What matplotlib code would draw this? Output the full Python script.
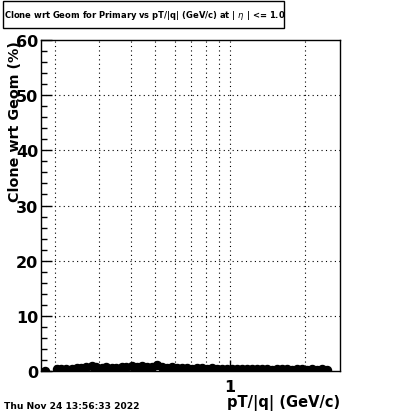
import numpy as np
import matplotlib.pyplot as plt
from matplotlib.patches import Rectangle
from matplotlib.ticker import FixedLocator, NullFormatter, MultipleLocator

# data
pt = [0.181, 0.202, 0.211, 0.221, 0.232, 0.243, 0.254, 0.266, 0.279, 0.292, 0.306,
      0.320, 0.336, 0.351, 0.368, 0.385, 0.404, 0.423, 0.443, 0.464, 0.486,
      0.509, 0.533, 0.558, 0.584, 0.612, 0.641, 0.671, 0.703, 0.736, 0.771,
      0.807, 0.846, 0.886, 0.928, 0.971, 1.017, 1.066, 1.116, 1.169, 1.224,
      1.282, 1.343, 1.406, 1.473, 1.542, 1.615, 1.692, 1.772, 1.856, 1.943,
      2.035, 2.132, 2.233, 2.338, 2.449]
clone = [0.0, 0.35, 0.45, 0.4, 0.35, 0.5, 0.55, 0.7, 0.9, 0.75, 0.6,
         0.7, 0.55, 0.5, 0.65, 0.8, 0.85, 0.7, 0.95, 0.8, 0.75,
         1.1, 0.7, 0.6, 0.75, 0.55, 0.5, 0.6, 0.45, 0.55, 0.5,
         0.4, 0.5, 0.35, 0.45, 0.4, 0.35, 0.4, 0.3, 0.35, 0.4,
         0.3, 0.35, 0.3, 0.25, 0.3, 0.35, 0.3, 0.25, 0.3, 0.3,
         0.25, 0.3, 0.25, 0.3, 0.25]

title = "Clone wrt Geom for Primary vs pT/|q| (GeV/c) at | $\\eta$ | <= 1.0"
xgrid = [0.2, 0.3, 0.4, 0.5, 0.6, 0.7, 0.8, 0.9, 1.0, 2.0]

fig = plt.figure(figsize=(4.0, 4.14), dpi=100)
ax = fig.add_axes([0.1025, 0.1014, 0.7475, 0.7996])

ax.plot(pt, clone, 'o', color='black', markersize=5.8, linestyle='none')

ax.set_xscale('log')
ax.set_xlim(0.175, 2.76)
ax.set_ylim(0, 60)

ax.yaxis.set_major_locator(MultipleLocator(10))
ax.yaxis.set_minor_locator(MultipleLocator(2))
ax.xaxis.set_major_locator(FixedLocator([1.0]))
ax.xaxis.set_major_formatter(plt.FuncFormatter(lambda v, p: "1"))
ax.xaxis.set_minor_locator(FixedLocator([0.2, 0.3, 0.4, 0.5, 0.6, 0.7, 0.8, 0.9, 2.0]))
ax.xaxis.set_minor_formatter(NullFormatter())

ax.tick_params(axis='y', which='major', direction='in', length=8, width=1,
               labelsize=11.5, pad=2)
ax.tick_params(axis='y', which='minor', direction='in', length=4, width=1)
ax.tick_params(axis='x', which='major', direction='in', length=8, width=1,
               labelsize=11.5, pad=6)
ax.tick_params(axis='x', which='minor', direction='in', length=4, width=1)
for lab in ax.get_yticklabels() + ax.get_xticklabels():
    lab.set_fontweight('bold')

for v in xgrid:
    ax.axvline(v, color='black', linestyle=(0, (1, 3)), linewidth=0.8, zorder=0)
for v in range(10, 60, 10):
    ax.axhline(v, color='black', linestyle=(0, (1, 3)), linewidth=0.8, zorder=0)

for s in ax.spines.values():
    s.set_linewidth(1)

ax.set_ylabel("Clone wrt Geom (%)", fontsize=10.3, fontweight='bold')
ax.yaxis.set_label_coords(-0.087, 1.0)
ax.yaxis.label.set_horizontalalignment('right')
ax.yaxis.label.set_verticalalignment('center')

ax.set_xlabel("pT/|q| (GeV/c)", fontsize=10.5, fontweight='bold')
ax.xaxis.set_label_coords(1.0, -0.068)
ax.xaxis.label.set_horizontalalignment('right')

# title box
fig.patches.append(Rectangle((3 / 400, 1 - 29 / 414), 281 / 400, 27 / 414,
                             transform=fig.transFigure, facecolor='white',
                             edgecolor='black', linewidth=1))
fig.text(145 / 400, 1 - 16 / 414, title, fontsize=6.0, fontweight='bold',
         ha='center', va='center')

fig.text(0.01, 0.019, "Thu Nov 24 13:56:33 2022", fontsize=6.6, fontweight='bold',
         ha='left', va='center')

fig.savefig("out.png", dpi=100)
